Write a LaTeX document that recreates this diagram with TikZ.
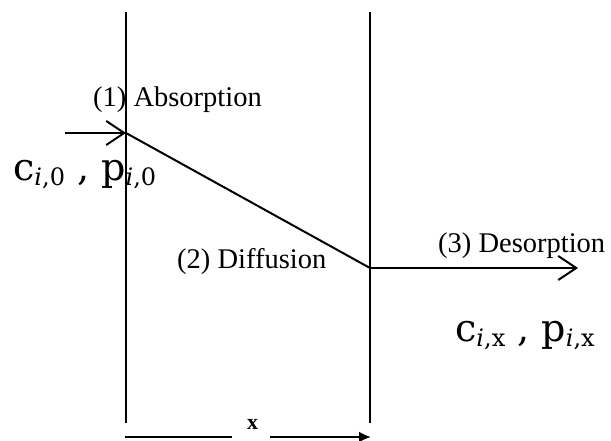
\documentclass[tikz,border=0pt]{standalone}
\usepackage{fontspec}
\setmainfont{Liberation Serif}
\newfontfamily\concfont{DejaVu Serif}
\usetikzlibrary{arrows.meta}
\newcommand{\lblfont}{\fontsize{28.5}{28.5}\selectfont}
\newcommand{\bigconc}{\concfont\fontsize{38}{38}\selectfont}
\newcommand{\subsc}[1]{\raisebox{-5pt}{\fontsize{24}{24}\selectfont #1}}
\tikzset{
  wall/.style={line width=2.2pt},
  flow/.style={line width=2pt},
  openarrow/.style={line width=2pt,-{Straight Barb[length=18pt,width=24pt,line width=2pt]}},
  dimline/.style={line width=2.6pt},
  dimarrow/.style={line width=2.6pt,-{Latex[length=12pt,width=11pt]}},
  lab/.style={inner sep=0pt,anchor=base west,font=\lblfont},
  conc/.style={inner sep=0pt,anchor=base west,font=\bigconc},
}
\begin{document}
\begin{tikzpicture}[x=1pt,y=-1pt]
\useasboundingbox (0,0) rectangle (611,441);
% walls
\coordinate (lt) at (126,12);
\coordinate (lb) at (126,423);
\coordinate (rt) at (370,12);
\coordinate (rb) at (370,423);
\draw[wall] (lt) -- (lb);
\draw[wall] (rt) -- (rb);
% flow
\coordinate (in) at (65,133);
\coordinate (a) at (126,133);
\coordinate (b) at (370,268);
\coordinate (out) at (578,268);
\draw[openarrow] (in) -- (a);
\draw[flow] (a) -- (b);
\draw[openarrow] (b) -- (out);
% labels
\node[lab] (abs) at (93,107) {(1) Absorption};
\node[lab] (dif) at (177,269) {(2) Diffusion};
\node[lab] (des) at (438,252) {(3) Desorption};
\node[conc] (c0) at (13,181)
  {c\subsc{\textit{i},0} , p\subsc{\textit{i},0}};
\node[conc] (cx) at (455,341)
  {c\subsc{\textit{i},x} , p\subsc{\textit{i},x}};
% dimension
\coordinate (d1) at (125,437);
\coordinate (d2) at (232,437);
\coordinate (d3) at (270,437);
\coordinate (d4) at (371,437);
\node[inner sep=0pt,font=\fontsize{22}{22}\selectfont\bfseries] (xl) at (252.5,424) {x};
\draw[dimline] (d1) -- (d2);
\draw[dimarrow] (d3) -- (d4);
\end{tikzpicture}
\end{document}
